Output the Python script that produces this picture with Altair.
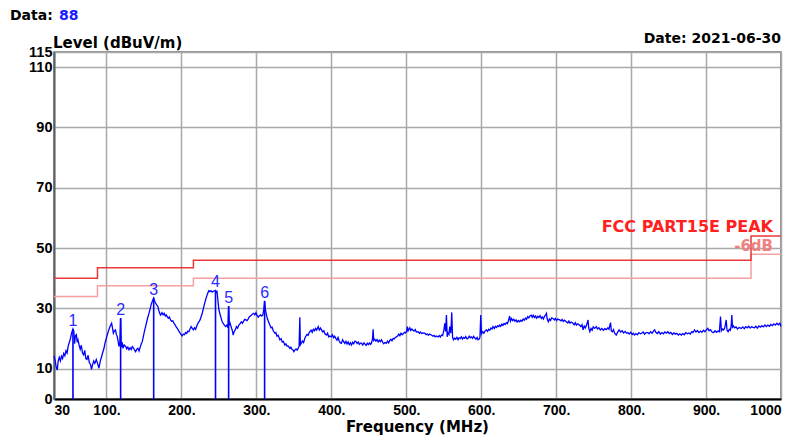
import altair as alt
import pandas as pd

# ---------------- data ----------------
x_ticks = [30, 100, 200, 300, 400, 500, 600, 700, 800, 900, 1000]
x_tick_labels = ["30", "100.", "200.", "300.", "400.", "500.", "600.", "700.", "800.", "900.", "1000"]
y_ticks = [0, 10, 30, 50, 70, 90, 110, 115]

limit_freq = [30, 88, 88, 216, 216, 960, 960, 1000]
limit_level = [40, 40, 43.5, 43.5, 46, 46, 54, 54]
limit_margin_db = 6

marker_ids = ["1", "2", "3", "4", "5", "6"]
marker_freq = [55.3, 118.9, 163.0, 245.5, 263.0, 311.0]
marker_level = [23.2, 26.8, 33.5, 36.0, 30.8, 32.5]

# trace segments: (frequency MHz, level dBuV/m)
trace_30_100 = [
    (30, 14.3), (31.5, 12.8), (33, 10.5), (34.4, 9.6), (35.5, 12.5), (37, 13.8), (38.5, 12.6),
    (40, 14.2), (41.5, 13.4), (43, 15.1), (44.5, 14.3), (46, 16.0), (47.5, 15.2), (49, 17.6),
    (50.5, 18.8), (52, 20.1), (53.5, 21.9), (55.3, 23.2), (56.5, 22.4), (57.5, 18.3), (58.5, 20.9),
    (59.8, 21.3), (61, 18.8), (62, 19.6), (63.5, 17.9), (65, 16.5), (66.5, 17.8), (68, 15.2),
    (69.5, 14.6), (71, 16.1), (72.5, 13.4), (74, 13.1), (75.5, 14.5), (77, 12.2), (78.9, 11.3),
    (80, 9.8), (81.5, 11.4), (83, 12.6), (84.5, 11.8), (86.4, 13.1), (88, 11.9), (90, 10.2),
    (91.5, 12.3), (93, 13.6), (95, 15.4), (96.7, 16.8), (98, 18.5), (99.5, 19.8),
]
trace_100_200 = [
    (101, 21.2), (102.5, 22.4), (104.7, 24.0), (106.9, 25.1), (108, 23.6), (109.2, 21.8),
    (110.5, 22.6), (112, 22.9), (113.2, 21.4), (114.5, 20.6), (115.5, 19.2), (116.7, 17.4),
    (117.8, 18.6), (118.9, 26.8), (119.8, 17.2), (120.8, 18.9), (122, 16.8), (123.5, 17.9),
    (125.6, 17.4), (127, 16.6), (128.5, 17.2), (130, 16.3), (131.5, 17.0), (133, 16.4),
    (134.5, 17.4), (136, 16.9), (137.5, 16.2), (138.9, 15.7), (140.5, 16.5), (142, 16.8),
    (143.5, 15.9), (145, 17.2), (146.5, 18.3), (147.8, 19.0), (149.3, 20.8), (150.8, 22.6),
    (152.2, 24.0), (153.7, 25.6), (155.2, 27.1), (156.7, 28.4), (158.2, 29.8), (159.5, 31.2),
    (160.5, 31.9), (161.5, 32.6), (163, 33.5), (164, 32.6), (165.5, 31.8), (167, 31.2),
    (168.7, 30.6), (170, 29.2), (171, 28.4), (172.2, 27.8), (174, 28.6), (175.5, 27.9),
    (177, 28.4), (178.5, 27.5), (180, 27.9), (181, 27.3), (182.5, 26.8), (184, 27.2),
    (185.5, 26.2), (187, 25.8), (188.5, 25.9), (190, 25.1), (191.5, 24.6), (193, 23.9),
    (194.5, 23.4), (196, 22.8), (197.5, 22.1), (199, 21.6),
]
trace_200_300 = [
    (201, 20.9), (202.5, 21.5), (204, 21.3), (205.5, 22.0), (207, 21.7), (208.5, 22.5),
    (210, 22.3), (211.5, 23.2), (213, 24.0), (214.5, 23.4), (216, 22.9), (217.5, 23.6),
    (218.9, 23.1), (220.5, 24.2), (222, 25.1), (223.5, 25.6), (225, 26.3), (226.5, 27.4),
    (227.8, 28.4), (229.3, 30.0), (230.8, 31.5), (232.2, 32.8), (233.7, 34.0), (235.2, 35.1),
    (236.7, 35.9), (238, 35.6), (239.5, 35.9), (241, 35.4), (242.5, 35.7), (244, 35.8),
    (245.5, 36.0), (246.5, 35.3), (247.5, 35.6), (248.5, 33.2), (250, 29.5), (251.5, 28.1),
    (253, 26.8), (254.4, 25.6), (256, 25.0), (257.5, 24.4), (259, 24.0), (260.5, 24.5),
    (262, 23.6), (263, 30.8), (264, 24.4), (265, 25.1), (266.5, 23.8), (268, 22.6),
    (269.1, 21.2), (270.5, 22.4), (272, 23.0), (273.5, 24.0), (275, 23.5), (276.5, 24.4),
    (278, 24.9), (280, 25.6), (281.5, 25.1), (283, 25.8), (284.5, 26.4), (286, 26.2),
    (287.5, 26.0), (289, 26.5), (290.5, 27.2), (292, 27.5), (293.6, 27.8), (295, 28.2),
    (296.5, 28.4), (298, 27.9), (299.5, 28.6),
]
trace_300_400 = [
    (301, 27.6), (302.5, 27.1), (304, 27.6), (305.5, 27.9), (307, 27.5), (308.5, 27.8),
    (309.8, 29.4), (311, 32.5), (312, 29.8), (313.5, 27.8), (315, 26.4), (316.5, 25.4),
    (318, 24.5), (319.5, 23.6), (321, 23.8), (322.5, 22.6), (324.7, 21.8), (326, 22.0),
    (327.5, 20.8), (329, 21.1), (331.4, 19.6), (333, 20.0), (334.5, 18.9), (336, 19.1),
    (338, 17.9), (339.5, 18.3), (341, 17.5), (342.5, 17.6), (344.7, 16.8), (346, 17.2),
    (347.5, 16.5), (349, 16.2), (350, 15.7), (351.5, 16.3), (353, 16.6), (354.5, 16.2),
    (356, 16.9), (357, 17.5), (358, 27.1), (358.8, 18.0), (360, 18.5), (361.5, 19.2),
    (363, 18.7), (364.7, 20.1), (366, 20.8), (367.5, 21.4), (369, 21.1), (370.5, 22.0),
    (371.4, 22.3), (373, 22.8), (374.5, 22.1), (376, 23.1), (377.5, 22.6), (379, 23.4),
    (380.5, 22.8), (382.5, 24.0), (384, 22.9), (385.5, 23.5), (387, 22.9), (388.5, 22.2),
    (390, 22.6), (391.5, 21.6), (393.6, 21.2), (395, 21.8), (396.5, 20.6), (398, 20.9),
]
trace_400_500 = [
    (400, 20.6), (401.5, 21.3), (403, 20.3), (404.5, 20.8), (406, 20.1), (407.5, 19.5),
    (409, 20.4), (410.5, 19.2), (412, 18.6), (413.6, 18.5), (415, 19.6), (416.5, 19.0),
    (418, 18.4), (419.5, 19.1), (421, 18.2), (422.5, 18.9), (424, 18.0), (425.5, 18.6),
    (427, 17.9), (428.5, 18.8), (430, 18.3), (431.5, 19.2), (433, 19.0), (434.5, 18.4),
    (436, 18.9), (437.5, 18.1), (439, 18.5), (440.2, 18.5), (442, 17.9), (443.5, 18.6),
    (445, 18.2), (446.5, 17.8), (448, 18.5), (449.5, 18.0), (451, 18.6), (452.5, 18.1),
    (453.6, 18.5), (455, 20.0), (455.8, 23.1), (456.6, 19.4), (458, 19.8), (459.5, 19.2),
    (461, 19.7), (462.5, 18.9), (464, 19.5), (465.5, 19.0), (467, 19.6), (468.5, 18.8),
    (470, 18.3), (471.5, 18.7), (473.6, 18.5), (475, 19.2), (476.5, 18.6), (478, 19.4),
    (479.5, 19.8), (481, 19.3), (482.5, 20.1), (484, 19.9), (485.5, 20.4), (486.9, 20.6),
    (488.5, 20.9), (490, 21.5), (491.5, 21.0), (493, 21.8), (494.5, 21.3), (496, 21.6),
    (497.5, 22.1), (499, 21.9),
]
trace_500_600 = [
    (500.3, 22.3), (501.5, 24.0), (502.5, 22.6), (504.7, 23.6), (506, 22.7), (507.5, 23.2),
    (509, 22.8), (510.5, 22.5), (512, 23.0), (513.5, 22.2), (515.8, 22.3), (517.5, 21.8),
    (519, 22.2), (520.5, 21.7), (522, 21.9), (524.7, 21.8), (526.5, 21.3), (528, 21.6),
    (529.5, 21.1), (531, 21.5), (533.6, 21.2), (535.5, 20.8), (537, 21.1), (538.5, 20.6),
    (540, 20.9), (542.5, 20.6), (544, 21.0), (545.5, 20.5), (547, 21.2), (548.5, 21.0),
    (550, 22.6), (551.4, 25.1), (552.5, 22.4), (553.6, 27.8), (554.6, 20.6), (555.5, 22.0),
    (557, 21.4), (558, 24.0), (559.5, 21.8), (560.7, 28.7), (561.8, 20.4), (563, 19.6),
    (564.5, 20.2), (566, 19.8), (567.5, 20.4), (569.1, 19.6), (570.5, 20.3), (572, 20.0),
    (573.5, 20.6), (575, 19.9), (576.5, 20.4), (578, 20.1), (579.5, 20.7), (581, 19.9),
    (582.5, 20.1), (584, 20.8), (585.5, 20.3), (587, 20.6), (588.5, 20.1), (590, 20.8),
    (591.5, 20.2), (593, 19.8), (594.5, 20.4), (595.8, 19.6), (597, 19.8), (598.3, 20.4),
    (599.4, 27.8),
]
trace_600_700 = [
    (600.4, 21.6), (602, 22.3), (603.5, 21.8), (605, 22.5), (606.9, 22.9), (608.5, 22.4),
    (610, 23.1), (611.5, 22.8), (613, 23.5), (614.5, 23.2), (615.8, 24.0), (617.5, 23.4),
    (619, 24.1), (620.5, 23.7), (622, 24.3), (623.5, 24.0), (624.7, 24.5), (626, 24.1),
    (627.5, 24.8), (629, 24.4), (630.5, 25.0), (632, 24.7), (633.6, 25.3), (635, 25.0),
    (636.5, 26.1), (638, 27.5), (639, 25.8), (640.5, 26.7), (642, 26.0), (643.5, 26.4),
    (645, 25.8), (646.5, 26.2), (648, 25.5), (649.5, 26.0), (651.3, 25.6), (653, 26.1),
    (654.5, 25.8), (656, 26.5), (657.5, 26.1), (659, 26.8), (660.5, 26.4), (662, 27.3),
    (663.5, 26.9), (665, 27.5), (666.9, 27.8), (668, 27.1), (669.5, 27.7), (671, 27.0),
    (672.5, 27.5), (674, 26.8), (675.5, 27.4), (677, 27.0), (678.5, 27.6), (680.2, 26.7),
    (681.5, 27.2), (683, 26.5), (684.5, 27.4), (686, 27.9), (687, 28.4), (688, 26.6),
    (689.5, 25.6), (691, 26.5), (692.5, 26.0), (694, 26.9), (695.8, 26.7), (697.5, 26.2),
    (699, 26.7),
]
trace_700_800 = [
    (700.5, 26.0), (702, 26.5), (704.7, 26.2), (706.5, 25.9), (708, 26.4), (709.5, 25.7),
    (711, 26.1), (713.6, 25.6), (715.5, 25.2), (717, 25.8), (718.5, 25.1), (720, 25.5),
    (722.5, 25.1), (724, 24.6), (725.5, 25.3), (727, 24.5), (728.5, 24.9), (731.3, 24.5),
    (733, 24.0), (734.5, 24.6), (736, 22.9), (737.5, 24.2), (739, 23.6), (740.5, 24.4),
    (742.5, 26.2), (743.5, 23.5), (745, 22.3), (746.5, 23.4), (748, 22.8), (749.5, 23.9),
    (751.3, 23.4), (753.6, 24.0), (755, 23.2), (757, 23.6), (759, 22.9), (761, 23.4),
    (763, 22.8), (765, 23.3), (767, 23.0), (769, 23.6), (770.5, 23.1), (771.6, 24.4),
    (772.6, 25.3), (773.6, 22.6), (775, 22.3), (776.5, 23.0), (778, 21.8), (780.2, 21.2),
    (782, 22.1), (784, 22.9), (786, 22.2), (788, 22.6), (790, 21.9), (792, 22.4),
    (794, 21.8), (795.7, 22.0), (797.5, 21.5), (799.5, 22.1),
]
trace_800_900 = [
    (801.5, 21.4), (803, 21.8), (804.6, 21.2), (806.5, 21.7), (808.5, 21.3), (810.5, 22.0),
    (812.5, 21.6), (814, 21.8), (816, 22.2), (818, 21.5), (820, 22.0), (822.4, 22.0),
    (824, 21.6), (826, 22.3), (828, 21.8), (830, 22.6), (831.3, 22.9), (833, 22.1),
    (835, 21.7), (837, 22.3), (839, 21.5), (841, 22.0), (843, 21.6), (845, 22.2),
    (847, 21.8), (849, 22.3), (851, 21.7), (853, 22.1), (855, 21.4), (857, 21.9),
    (859, 21.5), (861, 21.8), (863, 21.2), (865, 21.6), (866.9, 21.2), (869, 21.7),
    (871, 21.3), (873, 22.0), (875, 21.6), (877, 21.9), (879, 21.5), (881, 22.3),
    (882.5, 22.0), (884.6, 22.9), (886.5, 22.2), (888.5, 22.7), (890.5, 22.0), (892.5, 22.5),
    (894.5, 22.1), (896.5, 22.8), (898.5, 22.3),
]
trace_900_1000 = [
    (900.5, 23.0), (902.4, 23.4), (904, 22.6), (906, 23.0), (908, 22.2), (910, 22.0),
    (912, 22.6), (914, 22.1), (916, 22.5), (917.8, 22.3), (919.3, 27.3), (920.5, 22.6),
    (922, 23.2), (923.5, 22.9), (925, 23.6), (926.9, 26.2), (928, 22.8), (929.5, 22.3),
    (931, 23.1), (932.5, 22.8), (933.6, 24.5), (934.4, 27.8), (935.3, 23.8), (936.5, 24.2),
    (938, 23.6), (940, 23.9), (942, 23.2), (944, 23.7), (946.9, 23.4), (949, 23.9),
    (951, 23.3), (953, 24.0), (955, 23.6), (957, 24.1), (959, 23.5), (961, 24.0),
    (962.5, 23.7), (964.6, 23.6), (966.5, 24.1), (968.5, 23.5), (970.5, 24.2), (972.5, 23.8),
    (974.5, 24.3), (976.5, 23.9), (978.5, 24.5), (980.5, 24.0), (982.4, 24.5), (984.5, 24.1),
    (986.5, 24.7), (988.5, 24.3), (990.5, 24.9), (992.5, 24.5), (994.5, 25.1), (996.5, 24.6),
    (998.5, 25.1), (1000, 24.0),
]

# ---------------- tables ----------------
segments = [trace_30_100, trace_100_200, trace_200_300, trace_300_400, trace_400_500,
            trace_500_600, trace_600_700, trace_700_800, trace_800_900, trace_900_1000]
rows = [p for seg in segments for p in seg]
trace_df = pd.DataFrame(rows, columns=["freq", "level"])
trace_df["i"] = range(len(trace_df))

limit_df = pd.DataFrame({"freq": limit_freq, "level": limit_level, "i": range(len(limit_freq))})
margin_df = pd.DataFrame({"freq": limit_freq,
                          "level": [v - limit_margin_db for v in limit_level],
                          "i": range(len(limit_freq))})
marker_df = pd.DataFrame({"id": marker_ids, "freq": marker_freq, "level": marker_level,
                          "base": [0] * len(marker_ids)})

W, H = 727, 347
BOLD_UI = "DejaVu Sans"
ARIAL = "Liberation Sans"

x_scale = alt.Scale(domain=[30, 1000], nice=False, zero=False)
y_scale = alt.Scale(domain=[0, 115], nice=False)

label_expr = ""
for v, lab in zip(x_ticks, x_tick_labels):
    label_expr += f"datum.value == {v} ? '{lab}' : "
label_expr += "''"

x_axis = alt.Axis(values=x_ticks, labelExpr=label_expr, grid=True, gridColor="#a9a9a9",
                  gridWidth=1.5, ticks=False, domainColor="#000000", domainWidth=2,
                  labelFont=ARIAL, labelFontWeight="bold", labelFontSize=14, labelColor="#000000",
                  labelFlush=True, labelPadding=4, title=None)
y_axis = alt.Axis(values=y_ticks, grid=True, gridColor="#a9a9a9", gridWidth=1.5, ticks=False,
                  domainColor="#606060", domainWidth=2, labelFont=ARIAL, labelFontWeight="bold",
                  labelFontSize=14.5, labelColor="#000000", labelFlush=False, labelPadding=2,
                  labelOverlap=False, title=None)

trace = alt.Chart(trace_df).mark_line(color="#0000ff", strokeWidth=1.3).encode(
    x=alt.X("freq:Q", scale=x_scale, axis=x_axis),
    y=alt.Y("level:Q", scale=y_scale, axis=y_axis),
    order="i:Q",
)

limit_line = alt.Chart(limit_df).mark_line(color="#e8383a", strokeWidth=1.5).encode(
    x=alt.X("freq:Q", scale=x_scale), y=alt.Y("level:Q", scale=y_scale), order="i:Q")
margin_line = alt.Chart(margin_df).mark_line(color="#f4a0a0", strokeWidth=1.5).encode(
    x=alt.X("freq:Q", scale=x_scale), y=alt.Y("level:Q", scale=y_scale), order="i:Q")

marker_rules = alt.Chart(marker_df).mark_rule(color="#0000ff", strokeWidth=1.6).encode(
    x=alt.X("freq:Q", scale=x_scale), y=alt.Y("base:Q", scale=y_scale), y2="level:Q")
marker_text = alt.Chart(marker_df).mark_text(
    color="#2b2bff", font=ARIAL, fontSize=16, baseline="alphabetic", dy=-3).encode(
    x=alt.X("freq:Q", scale=x_scale), y=alt.Y("level:Q", scale=y_scale), text="id:N")


def label(text, x, y, color="#000000", size=14, align="left", font=BOLD_UI, weight="bold"):
    return alt.Chart(pd.DataFrame({"t": [text]})).mark_text(
        color=color, fontSize=size, font=font, fontWeight=weight, align=align,
        baseline="alphabetic").encode(x=alt.value(x), y=alt.value(y), text="t:N")


texts = [
    label("Data:", -44, -32.5),
    label("88", 5, -32.5, color="#1a1aff"),
    label("Level (dBuV/m)", -1, -4, size=15),
    label("Date: 2021-06-30", W, -9, align="right"),
    label("Frequency (MHz)", W / 2, 380, size=15, align="center"),
    label("FCC PART15E PEAK", 719, 180, color="#ff2020", size=16, align="right"),
    label("-6dB", 719, 198.5, color="#f08080", size=15, align="right"),
]

chart = alt.layer(trace, margin_line, limit_line, marker_rules, marker_text, *texts).properties(
    width=W, height=H,
    autosize=alt.AutoSizeParams(type="none"),
    padding={"left": 46, "top": 44, "right": 5, "bottom": 36},
).configure_view(stroke="#707070", strokeWidth=1.5)

chart.save("out.html", embed_options={"renderer": "svg", "actions": False})
